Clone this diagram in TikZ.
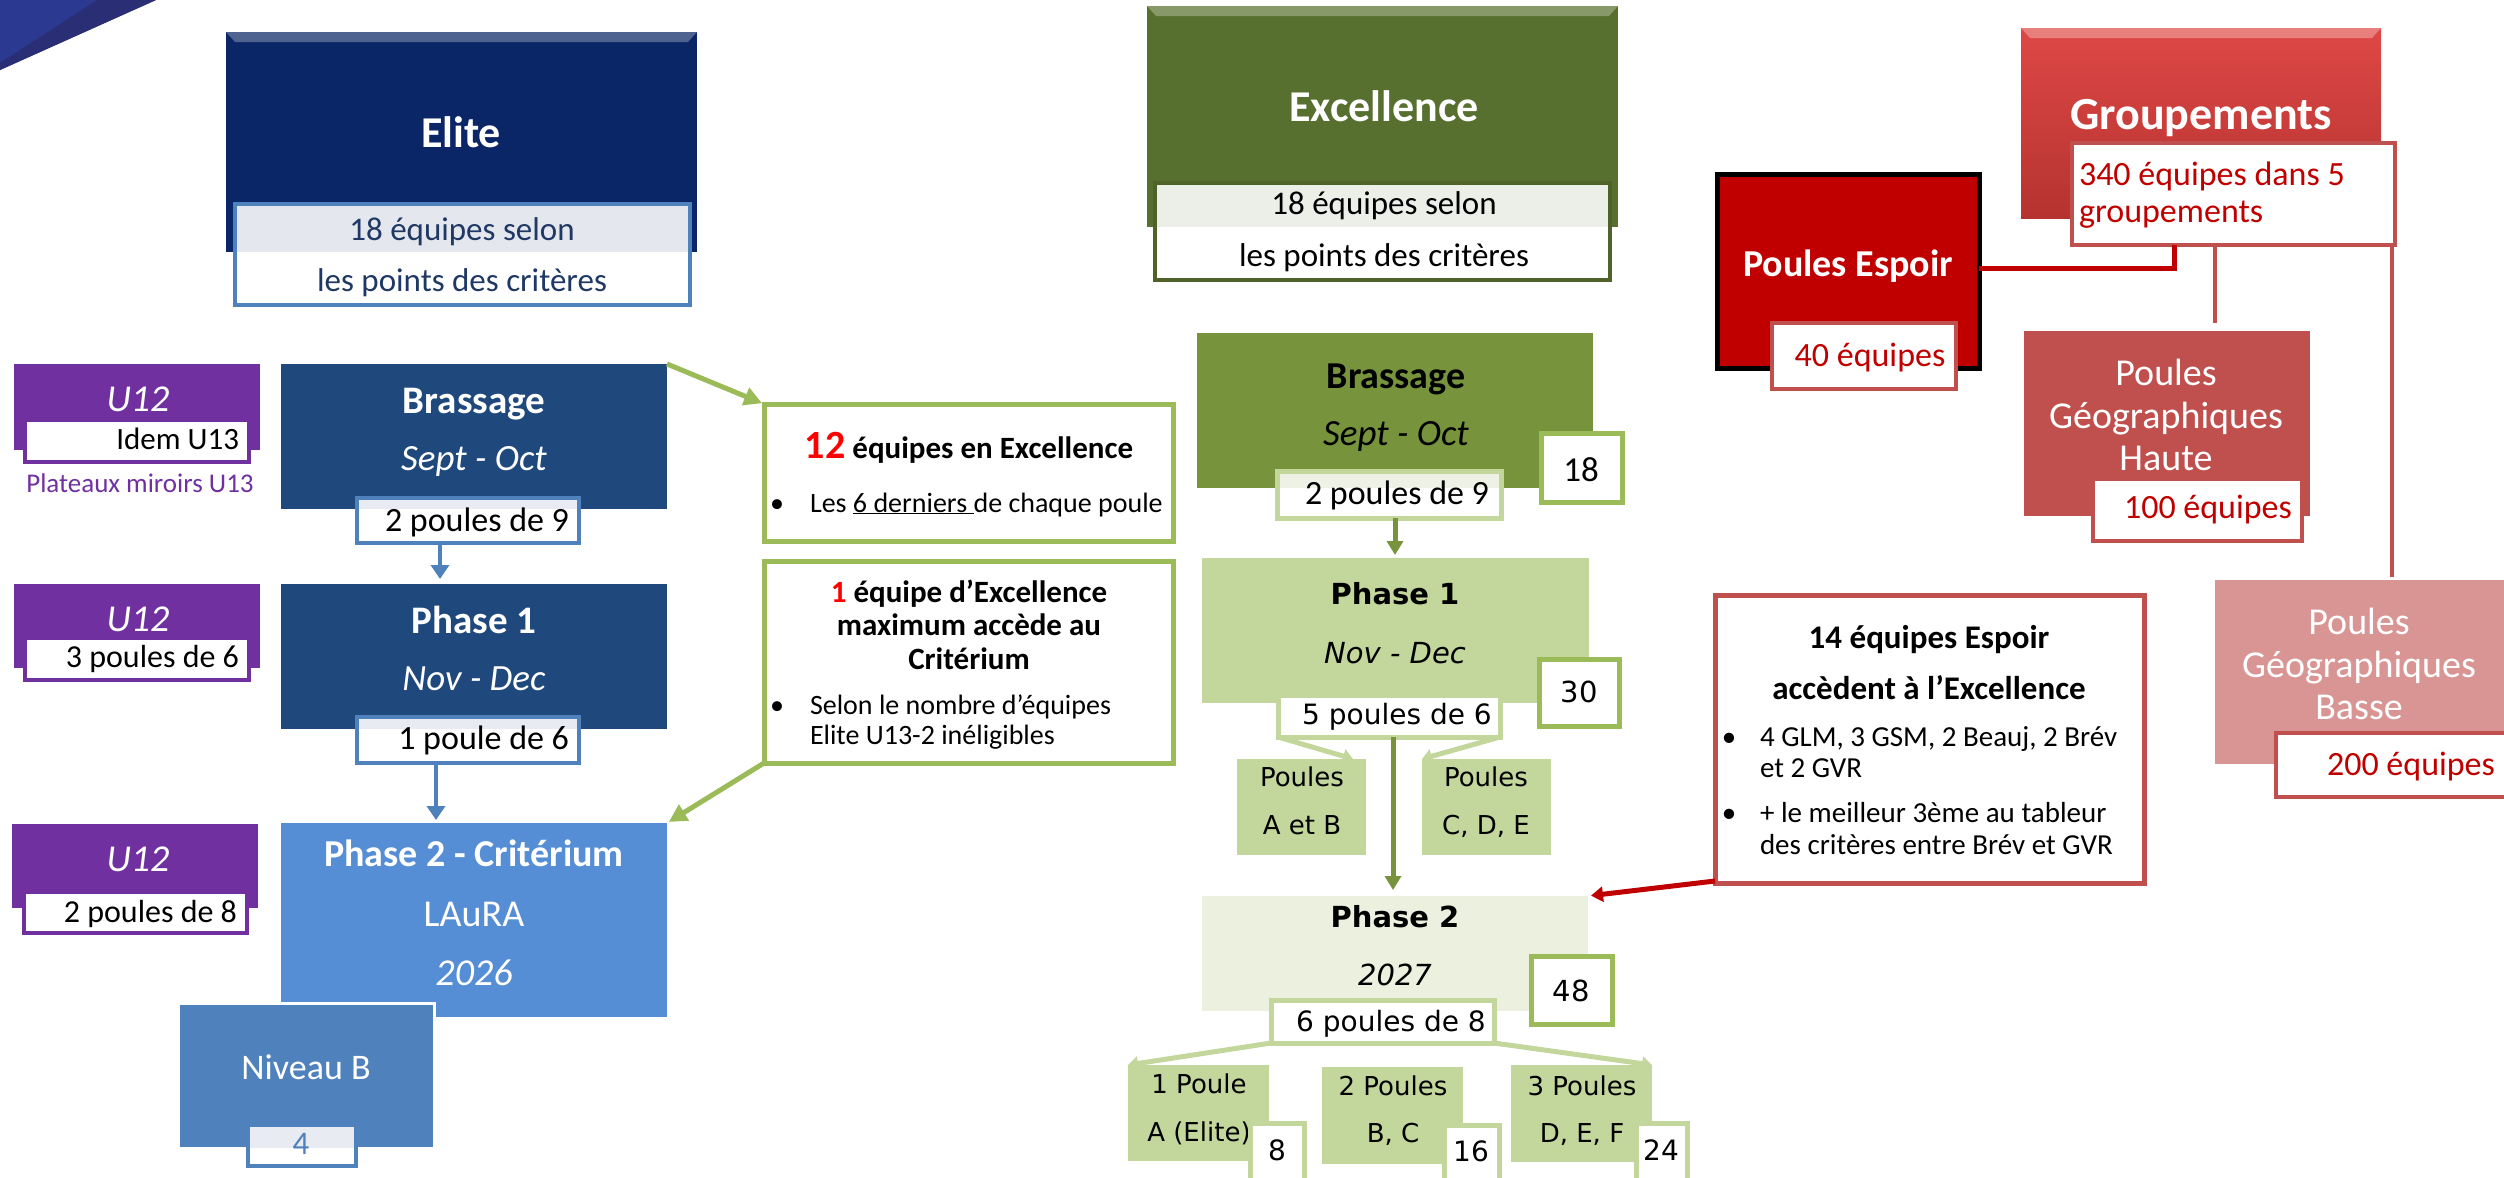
\documentclass[tikz,border=0pt]{standalone}
\usepackage{fontspec}
\setmainfont{Carlito}
\newfontfamily\dv{DejaVu Sans}
\usetikzlibrary{arrows.meta}
\newcommand\fsz[1]{\fontsize{#1}{#1}\selectfont}
\definecolor{decoA}{HTML}{2B3A90}
\definecolor{decoB}{HTML}{2A2E74}
\definecolor{eliteC}{HTML}{0B2666}
\definecolor{blueD}{HTML}{1F497D}
\definecolor{blueL}{HTML}{558ED5}
\definecolor{blueM}{HTML}{4F81BD}
\definecolor{navyT}{HTML}{1F3864}
\definecolor{subGrey}{HTML}{E4E7EE}
\definecolor{subBlue}{HTML}{E8ECF2}
\definecolor{purp}{HTML}{7030A0}
\definecolor{gExc}{HTML}{58702F}
\definecolor{gExcB}{HTML}{4F6228}
\definecolor{gExcSub}{HTML}{ECEEE8}
\definecolor{gBr}{HTML}{77933C}
\definecolor{gL}{HTML}{C3D69B}
\definecolor{gLL}{HTML}{EBF1DE}
\definecolor{gBd}{HTML}{9BBB59}
\definecolor{gSubTop}{HTML}{EEF2E6}
\definecolor{rD}{HTML}{C00000}
\definecolor{rM}{HTML}{C0504D}
\definecolor{rL}{HTML}{D99594}
\definecolor{grpT}{HTML}{DE4846}
\definecolor{grpB}{HTML}{B5332F}
\tikzset{
 bx/.style={rectangle, inner sep=0pt, outer sep=0pt, anchor=north west},
 tc/.style={inner sep=0pt, outer sep=0pt, anchor=base},
 tl/.style={inner sep=0pt, outer sep=0pt, anchor=base west},
 tr/.style={inner sep=0pt, outer sep=0pt, anchor=base east},
 blueArr/.style={draw=blueM, line width=4.5pt, -{Triangle[length=14pt,width=18pt]}},
 greenArr/.style={draw=gBd, line width=5pt, -{Triangle[length=18pt,width=18pt]}},
 dgArr/.style={draw=gBr, line width=5pt, -{Triangle[length=14pt,width=16pt]}},
 lgArr/.style={draw=gL, line width=5pt, -{Triangle[length=10pt,width=14pt]}},
 redArr/.style={draw=rD, line width=5pt, -{Triangle[length=12pt,width=15pt]}},
 strip/.style={path picture={\fill[#1] (path picture bounding box.north west) rectangle ([yshift=-\stripH]path picture bounding box.north east);}},
}
\newlength\stripH
\begin{document}
\begin{tikzpicture}[x=1pt,y=-1pt]
\useasboundingbox (0,0) rectangle (2504,1178);
\clip (0,0) rectangle (2504,1178);

% decoration
\fill[decoA] (0,0) -- (156,0) -- (0,70) -- cycle;
\fill[decoB] (97,0) -- (156,0) -- (0,70) -- (0,63) -- cycle;

% ================= connectors first =================
\coordinate (cA) at (0,0);

% ================= ELITE column =================
\node[bx, fill=eliteC, minimum width=471, minimum height=220] (elite) at (226,32) {};
\fill[eliteC!72!white] (elite.north west) -- (elite.north east) -- ++(-9,10) -- ([xshift=9pt,yshift=-10pt]elite.north west) -- cycle;
\node[tc, font=\fsz{44}\bfseries, text=white] (tElite) at (461,147.5) {Elite};
\setlength\stripH{48pt}
\node[bx, fill=white, draw=blueM, line width=4pt, minimum width=455, minimum height=101, strip=subGrey] (eliteSub) at (235,204) {};
\node[tc, font=\fsz{33}, text=navyT] (tEs1) at (462,240) {18 équipes selon};
\node[tc, font=\fsz{33}, text=navyT] (tEs2) at (462,291) {les points des critères};

% Brassage
\node[bx, fill=blueD, minimum width=386, minimum height=145] (ebr) at (281,364) {};
\node[tc, font=\fsz{39}\bfseries, text=white] (tEbr1) at (474,413) {Brassage};
\node[tc, font=\fsz{37}\itshape, text=white] (tEbr2) at (474,470) {Sept - Oct};
\setlength\stripH{11pt}
\node[bx, fill=white, draw=blueM, line width=4.5pt, minimum width=222, minimum height=45, strip=subBlue] (ebrSub) at (357,498) {};
\node[tr, font=\fsz{34}] (tEbrSub) at (569,531) {2 poules de 9};

% Phase 1
\node[bx, fill=blueD, minimum width=386, minimum height=145] (ep1) at (281,584) {};
\node[tc, font=\fsz{39}\bfseries, text=white] (tEp11) at (474,633) {Phase 1};
\node[tc, font=\fsz{37}\itshape, text=white] (tEp12) at (474,690) {Nov - Dec};
\setlength\stripH{12pt}
\node[bx, fill=white, draw=blueM, line width=4.5pt, minimum width=222, minimum height=46, strip=subBlue] (ep1Sub) at (357,717) {};
\node[tr, font=\fsz{34}] (tEp1Sub) at (569,749) {1 poule de 6};

% Phase 2 Critérium
\node[bx, fill=blueL, minimum width=386, minimum height=194] (ecrit) at (281,823) {};
\node[tc, font=\fsz{38}\bfseries, text=white] (tEc1) at (474,866) {Phase 2 - Critérium};
\node[tc, font=\fsz{38}, text=white] (tEc2) at (474,926) {LAuRA};
\node[tc, font=\fsz{38}\itshape, text=white] (tEc3) at (474,985) {2026};

% Niveau B
\node[bx, fill=blueM, draw=white, line width=3pt, minimum width=256, minimum height=145] (nivB) at (178,1003) {};
\node[tc, font=\fsz{36}, text=white] (tNivB) at (306,1079) {Niveau B};
\setlength\stripH{23pt}
\node[bx, fill=white, draw=blueM, line width=4pt, minimum width=108, minimum height=41, strip=subBlue] (nivBSub) at (248,1125) {};
\node[tc, font=\fsz{33}, text=blueM] (tNivBSub) at (301,1154) {4};

% blue arrows
\draw[blueArr, shorten >=5pt] ([xshift=-28pt]ebrSub.south) -- ([xshift=-28pt]ebrSub.south |- ep1.north);
\draw[blueArr, shorten >=3pt] ([xshift=-32pt]ep1Sub.south) -- ([xshift=-32pt]ep1Sub.south |- ecrit.north);

% U12 boxes
\node[bx, fill=purp, minimum width=246, minimum height=86] (u1) at (14,364) {};
\node[tc, font=\fsz{38}\itshape, text=white] (tU1) at (138,411) {U12};
\node[bx, fill=white, draw=purp, line width=4pt, minimum width=224, minimum height=42] (u1Sub) at (25,420) {};
\node[tr, font=\fsz{31}] (tU1Sub) at (239,449) {Idem U13};
\node[tc, font=\fsz{27}, text=purp] (tPlat) at (140,492) {Plateaux miroirs U13};

\node[bx, fill=purp, minimum width=246, minimum height=84] (u2) at (14,584) {};
\node[tc, font=\fsz{38}\itshape, text=white] (tU2) at (138,631) {U12};
\node[bx, fill=white, draw=purp, line width=4pt, minimum width=224, minimum height=42] (u2Sub) at (25,638) {};
\node[tr, font=\fsz{32}] (tU2Sub) at (239,667) {3 poules de 6};

\node[bx, fill=purp, minimum width=246, minimum height=84] (u3) at (12,824) {};
\node[tc, font=\fsz{38}\itshape, text=white] (tU3) at (138,871) {U12};
\node[bx, fill=white, draw=purp, line width=4pt, minimum width=223, minimum height=41] (u3Sub) at (24,892) {};
\node[tr, font=\fsz{32}] (tU3Sub) at (237,922) {2 poules de 8};

% ================= middle notes =================
\node[bx, fill=white, draw=gBd, line width=5pt, minimum width=409, minimum height=137] (box12) at (764,404) {};
\node[tc, font=\bfseries] (tB12) at (969,458) {\fsz{40}\textcolor{red}{12}\fsz{31} équipes en Excellence};
\node[tc, font=\fsz{28}] (tB12b) at (777,512) {•};
\node[tl, font=\fsz{28}] (tB12c) at (810,512) {Les \underline{6 derniers }de chaque poule};

\node[bx, fill=white, draw=gBd, line width=5pt, minimum width=409, minimum height=202] (box1) at (764,561) {};
\node[tc, font=\fsz{31}\bfseries] (tB1a) at (969,602) {\textcolor{red}{1} équipe d’Excellence};
\node[tc, font=\fsz{31}\bfseries] (tB1b) at (969,635) {maximum accède au};
\node[tc, font=\fsz{31}\bfseries] (tB1c) at (969,669) {Critérium};
\node[tc, font=\fsz{28}] (tB1d) at (777,714) {•};
\node[tl, font=\fsz{28}] (tB1e) at (810,714) {Selon le nombre d’équipes};
\node[tl, font=\fsz{28}] (tB1f) at (810,744) {Elite U13-2 inéligibles};

\draw[greenArr, shorten >=2pt] (ebr.north east) -- (box12.north west);
\draw[greenArr, shorten >=2pt] (box1.south west) -- (ecrit.north east);

% ================= EXCELLENCE column =================
\node[bx, fill=gExc, minimum width=471, minimum height=221] (exc) at (1147,6) {};
\fill[gExc!72!white] (exc.north west) -- (exc.north east) -- ++(-9,10) -- ([xshift=9pt,yshift=-10pt]exc.north west) -- cycle;
\node[tc, font=\fsz{44}\bfseries, text=white] (tExc) at (1384,121.5) {Excellence};
\setlength\stripH{44pt}
\node[bx, fill=white, draw=gExcB, line width=4pt, minimum width=455, minimum height=97, strip=gExcSub] (excSub) at (1155,183) {};
\node[tc, font=\fsz{33}] (tXs1) at (1384,214) {18 équipes selon};
\node[tc, font=\fsz{33}] (tXs2) at (1384,266) {les points des critères};

% Brassage green
\node[bx, fill=gBr, minimum width=396, minimum height=155] (xbr) at (1197,333) {};
\node[tc, font=\fsz{38}\bfseries] (tXbr1) at (1396,388) {Brassage};
\node[tc, font=\fsz{37}\itshape] (tXbr2) at (1396,445) {Sept - Oct};
\node[bx, fill=white, draw=gBd, line width=5pt, minimum width=81, minimum height=69] (n18) at (1541,433) {};
\node[tc, font=\fsz{35}] (tN18) at (1581,481) {18};
\setlength\stripH{17pt}
\node[bx, fill=white, draw=gL, line width=5pt, minimum width=224, minimum height=47, strip=gSubTop] (xbrSub) at (1277,471) {};
\node[tc, font=\fsz{34}] (tXbrSub) at (1397,504) {2 poules de 9};

% Phase 1 green
\node[bx, fill=gL, minimum width=387, minimum height=145] (xp1) at (1202,558) {};
\node[tc, font=\dv\fsz{29}\bfseries] (tXp11) at (1395,604.5) {Phase 1};
\node[tc, font=\dv\fsz{29}\itshape] (tXp12) at (1395,663.5) {Nov - Dec};
\node[bx, fill=white, draw=gBd, line width=5pt, minimum width=80, minimum height=67] (n30) at (1539,659) {};
\node[tc, font=\dv\fsz{29}] (tN30) at (1579,702.5) {30};

\draw[dgArr, shorten >=3pt] ([xshift=6pt]xbrSub.south) -- ([xshift=6pt]xbrSub.south |- xp1.north);

% Poules A et B / C D E
\node[bx, fill=gL, minimum width=129, minimum height=96] (pab) at (1237,759) {};
\node[tc, font=\dv\fsz{26}] (tPab1) at (1302,786.5) {Poules};
\node[tc, font=\dv\fsz{26}] (tPab2) at (1302,834.5) {A et B};
\node[bx, fill=gL, minimum width=129, minimum height=96] (pcde) at (1422,759) {};
\node[tc, font=\dv\fsz{26}] (tPcde1) at (1486,786.5) {Poules};
\node[tc, font=\dv\fsz{26}] (tPcde2) at (1486,834.5) {C, D, E};

% Phase 2 green
\node[bx, fill=gLL, minimum width=386, minimum height=115] (xp2) at (1202,896) {};
\node[tc, font=\dv\fsz{29}\bfseries] (tXp21) at (1395,927.5) {Phase 2};
\node[tc, font=\dv\fsz{29}\itshape] (tXp22) at (1395,985.5) {2027};
\node[bx, fill=white, draw=gBd, line width=5pt, minimum width=81, minimum height=68] (n48) at (1531,956) {};
\node[tc, font=\dv\fsz{29}] (tN48) at (1571,1001.5) {48};

% connectors from 5 poules
\node[bx, fill=white, draw=gL, line width=5pt, minimum width=222, minimum height=42] (x5Sub) at (1278,695) {};
\draw[lgArr] (x5Sub.south west) -- ([xshift=-13pt]pab.north east);
\draw[lgArr] (x5Sub.south east) -- (pcde.north west);
\draw[dgArr, shorten >=6pt] ([xshift=4pt]x5Sub.south) -- ([xshift=4pt]x5Sub.south |- xp2.north);
\node[tc, font=\dv\fsz{28}] (tX5) at (1397,724) {5 poules de 6};

% bottom poules
\node[bx, fill=gL, minimum width=141, minimum height=96] (q1) at (1128,1065) {};
\node[tc, font=\dv\fsz{26}] (tQ11) at (1199,1093.5) {1 Poule};
\node[tc, font=\dv\fsz{26}] (tQ12) at (1199,1141.5) {A (Elite)};
\node[bx, fill=gL, minimum width=141, minimum height=97] (q2) at (1322,1067) {};
\node[tc, font=\dv\fsz{26}] (tQ21) at (1393,1095.5) {2 Poules};
\node[tc, font=\dv\fsz{26}] (tQ22) at (1393,1142.5) {B, C};
\node[bx, fill=gL, minimum width=141, minimum height=97] (q3) at (1511,1065) {};
\node[tc, font=\dv\fsz{26}] (tQ31) at (1582,1095.5) {3 Poules};
\node[tc, font=\dv\fsz{26}] (tQ32) at (1582,1142.5) {D, E, F};

\node[bx, fill=white, draw=gL, line width=5pt, minimum width=54, minimum height=62] (n8) at (1250,1123) {};
\node[tc, font=\dv\fsz{28}] (tN8) at (1277,1160) {8};
\node[bx, fill=white, draw=gL, line width=5pt, minimum width=55, minimum height=60] (n16) at (1444,1125) {};
\node[tc, font=\dv\fsz{28}] (tN16) at (1471,1161) {16};
\node[bx, fill=white, draw=gL, line width=5pt, minimum width=51, minimum height=62] (n24) at (1636,1123) {};
\node[tc, font=\dv\fsz{28}] (tN24) at (1661,1160) {24};

\node[bx, fill=white, draw=gL, line width=5pt, minimum width=223, minimum height=43] (x6Sub) at (1271,1000) {};
\node[tc, font=\dv\fsz{28}] (tX6) at (1391,1031) {6 poules de 8};
\draw[lgArr] (x6Sub.south west) -- (q1.north west);
\draw[lgArr] (x6Sub.south east) -- (q3.north east);

% ================= GROUPEMENTS column =================
\node[bx, minimum width=360, minimum height=190] (grp) at (2021,28) {};
\shade[top color=grpT, bottom color=grpB] (grp.north west) rectangle (grp.south east);
\fill[grpT!70!white] (grp.north west) -- (grp.north east) -- ++(-9,10) -- ([xshift=9pt,yshift=-10pt]grp.north west) -- cycle;
\node[tc, font=\fsz{46}\bfseries, text=white] (tGrp) at (2201,129) {Groupements};

% connectors red
\draw[rM, line width=4.5pt] (2215,245) coordinate (hTop) -- (2215,323) coordinate (hBot);
\draw[rM, line width=4.5pt] (2392,245) coordinate (bTop) -- (2392,577) coordinate (bBot);

\node[bx, fill=white, draw=rM, line width=4pt, minimum width=323, minimum height=102] (grpSub) at (2072,143) {};
\node[tl, font=\fsz{34}, text=rD] (tGs1) at (2079,185) {340 équipes dans 5};
\node[tl, font=\fsz{34}, text=rD] (tGs2) at (2079,222) {groupements};

\node[bx, fill=rD, draw=black, line width=5pt, minimum width=262, minimum height=194] (espoir) at (1717,174) {};
\node[tc, font=\fsz{38}\bfseries, text=white] (tEsp) at (1848,276.5) {Poules Espoir};
\draw[rD, line width=5pt] ([yshift=3pt]espoir.east) -| ([xshift=102pt]grpSub.south west);
\node[bx, fill=white, draw=rM, line width=4pt, minimum width=184, minimum height=66] (espSub) at (1772,323) {};
\node[tc, font=\fsz{34}, text=rD] (tEspSub) at (1870,366) {40 équipes};

\node[bx, fill=rM, minimum width=286, minimum height=185] (haute) at (2024,331) {};
\node[tc, font=\fsz{38}, text=white] (tH1) at (2166,385.5) {Poules};
\node[tc, font=\fsz{38}, text=white] (tH2) at (2166,428.5) {Géographiques};
\node[tc, font=\fsz{38}, text=white] (tH3) at (2166,470.5) {Haute};
\node[bx, fill=white, draw=rM, line width=4pt, minimum width=209, minimum height=62] (hauteSub) at (2093,479) {};
\node[tc, font=\fsz{34}, text=rD] (tHSub) at (2208,518) {100 équipes};

\node[bx, fill=rL, minimum width=295, minimum height=184] (basse) at (2215,580) {};
\node[tc, font=\fsz{38}, text=white] (tBa1) at (2359,634.5) {Poules};
\node[tc, font=\fsz{38}, text=white] (tBa2) at (2359,677.5) {Géographiques};
\node[tc, font=\fsz{38}, text=white] (tBa3) at (2359,719.5) {Basse};
\node[bx, fill=white, draw=rM, line width=4pt, minimum width=240, minimum height=64] (basseSub) at (2276,733) {};
\node[tc, font=\fsz{34}, text=rD] (tBaSub) at (2411,775) {200 équipes};

% 14 équipes
\node[bx, fill=white, draw=rM, line width=5pt, minimum width=429, minimum height=288] (b14) at (1715,595) {};
\node[tc, font=\fsz{33}\bfseries] (t14a) at (1929,648) {14 équipes Espoir};
\node[tc, font=\fsz{33}\bfseries] (t14b) at (1929,699) {accèdent à l’Excellence};
\node[tc, font=\fsz{29}] (t14c) at (1729,746.5) {•};
\node[tl, font=\fsz{29}] (t14d) at (1760,746.5) {4 GLM, 3 GSM, 2 Beauj, 2 Brév};
\node[tl, font=\fsz{29}] (t14e) at (1760,777.5) {et 2 GVR};
\node[tc, font=\fsz{29}] (t14f) at (1729,822.5) {•};
\node[tl, font=\fsz{29}] (t14g) at (1760,822.5) {+ le meilleur 3ème au tableur};
\node[tl, font=\fsz{29}] (t14h) at (1760,854.5) {des critères entre Brév et GVR};
\draw[redArr, shorten >=3pt] ([yshift=2pt]b14.south west) -- (xp2.north east);

\end{tikzpicture}
\end{document}
